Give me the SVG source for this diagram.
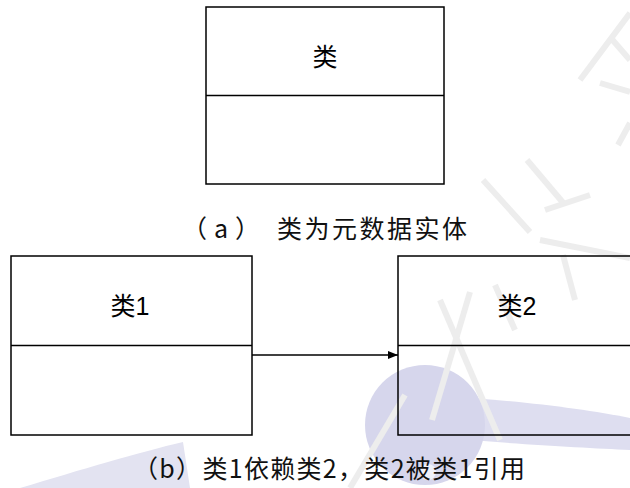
<svg xmlns="http://www.w3.org/2000/svg" width="630" height="488" viewBox="0 0 630 488">
  <style>
    .box { fill: none; stroke: #000; stroke-width: 1.5; }
    .div { stroke: #000; stroke-width: 1.5; }
    .lbl { font-family: "Liberation Sans", "Noto Sans CJK SC", sans-serif; font-size: 25px; fill: #000; text-anchor: middle; dominant-baseline: central; }
    .cap { font-family: "Noto Sans CJK SC", sans-serif; font-size: 25px; fill: #111; dominant-baseline: central; }
    .wm { fill: none; stroke: #ededed; stroke-width: 6; stroke-linecap: butt; }
  </style>
  <defs>
    <marker id="arr" markerWidth="10" markerHeight="8" refX="10" refY="4" orient="auto" markerUnits="userSpaceOnUse">
      <path d="M0,0 L10,4 L0,8 Z" fill="#000"/>
    </marker>
  </defs>
  <rect width="630" height="488" fill="#fff"/>
  <!-- faint watermark -->
  <g id="watermark">
    <path d="M470,398 C530,402 590,410 630,418 L630,450 C590,448 530,445 470,440 Z" fill="#dedef0"/>
    <circle cx="425" cy="425" r="60" fill="#d6d6ec"/>
    <circle cx="428" cy="472" r="8" fill="#f0f0f8"/>
    <path d="M20,488 C80,470 140,452 183,442 L190,488 Z" fill="#e3e3f1"/>
    <path class="wm" d="M630,13 L580,80"/>
    <path class="wm" d="M610,37 L630,60"/>
    <path class="wm" d="M600,83 L630,92"/>
    <path class="wm" d="M630,123 L618,145"/>
    <path class="wm" d="M483,180 L530,232"/>
    <path class="wm" d="M527,160 L565,205"/>
    <path class="wm" d="M545,210 L590,195"/>
    <path class="wm" d="M540,240 L630,258"/>
    <path class="wm" d="M470,292 L432,420"/>
    <path class="wm" d="M440,300 L500,440"/>
    <path class="wm" d="M495,285 L515,330"/>
    <path class="wm" d="M563,255 L575,300"/>
    <path class="wm" d="M405,395 L350,488"/>
  </g>
  <g id="class-a">
    <rect class="box" x="206" y="7" width="238" height="177"/>
    <line class="div" x1="206" y1="95.5" x2="444" y2="95.5"/>
    <text class="lbl" x="325" y="57">类</text>
  </g>
  <g id="caption-a">
    <text class="cap" x="182" y="227" letter-spacing="7">（a）</text>
    <text class="cap" x="277" y="227" textLength="190" lengthAdjust="spacing">类为元数据实体</text>
  </g>
  <g id="class-1">
    <rect class="box" x="11" y="256" width="241" height="179"/>
    <line class="div" x1="11" y1="345.5" x2="252" y2="345.5"/>
    <text class="lbl" x="130" y="306">类1</text>
  </g>
  <g id="class-2">
    <path class="box" d="M640,256 L398,256 L398,435 L640,435"/>
    <line class="div" x1="398" y1="345.5" x2="630" y2="345.5"/>
    <text class="lbl" x="517" y="306">类2</text>
  </g>
  <g id="connectors">
    <line x1="252" y1="355" x2="398" y2="355" stroke="#000" stroke-width="1.3" marker-end="url(#arr)"/>
  </g>
  <g id="caption-b">
    <text class="cap" x="133" y="467" textLength="392" lengthAdjust="spacing">（b）类1依赖类2，类2被类1引用</text>
  </g>
</svg>
